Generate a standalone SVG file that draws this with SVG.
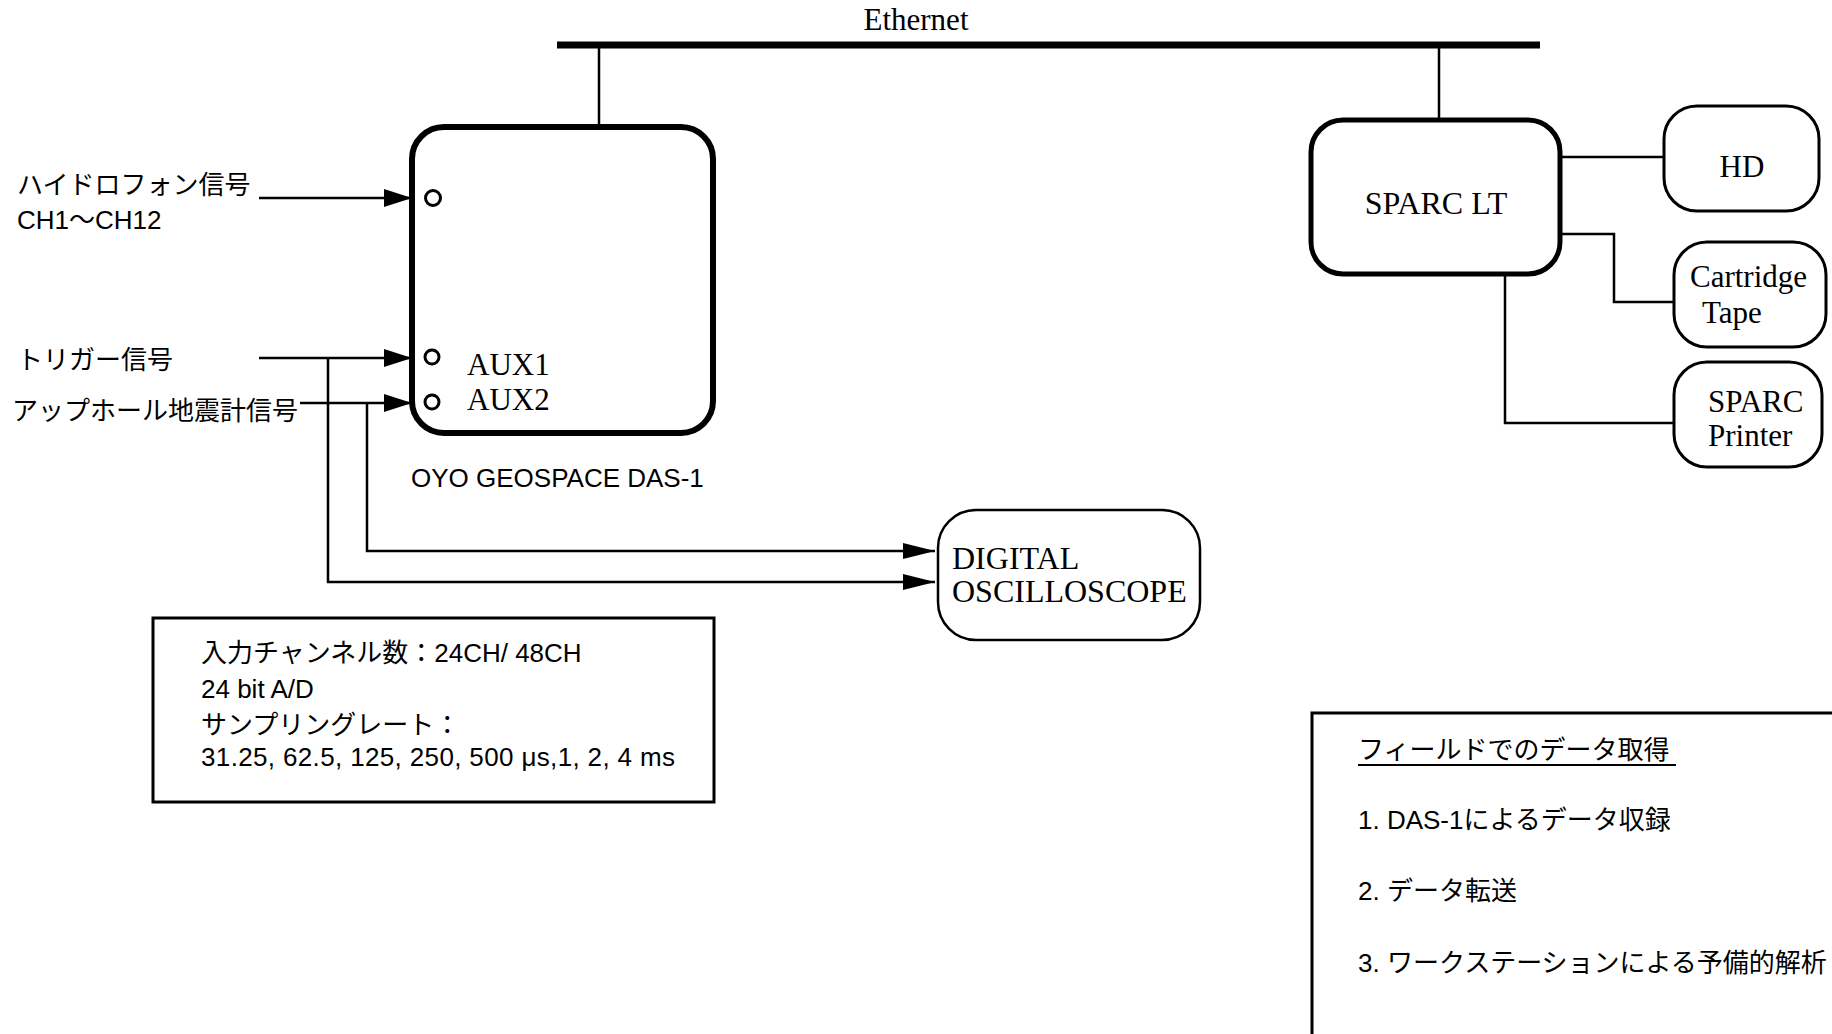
<svg xmlns="http://www.w3.org/2000/svg" width="1832" height="1034" viewBox="0 0 1832 1034">
<defs>
<style>
.serif{font-family:"Liberation Serif","Times New Roman",serif;font-size:31px;fill:#000}
.big{font-size:32px}
.jp{font-family:"Liberation Sans","Noto Sans CJK JP",sans-serif;font-size:26px;fill:#000}
.thick{fill:#fff;stroke:#000;stroke-width:6}
.mid{fill:#fff;stroke:#000;stroke-width:5}
.thin{fill:#fff;stroke:#000;stroke-width:3}
.ln{fill:none;stroke:#000;stroke-width:2.5}
.port{fill:#fff;stroke:#000;stroke-width:3}
</style>
<marker id="arr" markerUnits="userSpaceOnUse" markerWidth="30" markerHeight="20" refX="28" refY="9" orient="auto">
<path d="M0,0 L28,9 L0,18 z" fill="#000"/>
</marker>
<marker id="arr2" markerUnits="userSpaceOnUse" markerWidth="34" markerHeight="18" refX="32" refY="8" orient="auto">
<path d="M0,0 L32,8 L0,16 z" fill="#000"/>
</marker>
</defs>
<rect width="1832" height="1034" fill="#fff"/>

<g id="connectors">
<line x1="557" y1="45" x2="1540" y2="45" stroke="#000" stroke-width="7"/>
<line class="ln" x1="599" y1="45" x2="599" y2="127"/>
<line class="ln" x1="1439" y1="45" x2="1439" y2="120"/>
<line class="ln" x1="1560" y1="157" x2="1664" y2="157"/>
<polyline class="ln" points="1560,234 1614,234 1614,302 1674,302"/>
<polyline class="ln" points="1505,274 1505,423 1674,423"/>
<line class="ln" x1="259" y1="198" x2="412" y2="198" marker-end="url(#arr)"/>
<line class="ln" x1="259" y1="358" x2="412" y2="358" marker-end="url(#arr)"/>
<line class="ln" x1="300" y1="403" x2="412" y2="403" marker-end="url(#arr)"/>
<line class="ln" x1="412" y1="198" x2="425" y2="198"/>
<polyline class="ln" points="328,358 328,582 935,582" marker-end="url(#arr2)"/>
<polyline class="ln" points="367,403 367,551 935,551" marker-end="url(#arr2)"/>
</g>

<text class="serif" x="916" y="30" text-anchor="middle" font-size="30">Ethernet</text>

<g id="das1">
<rect class="thick" x="412" y="127" width="301" height="306" rx="32"/>
<circle class="port" cx="433" cy="198" r="7.5"/>
<circle class="port" cx="432" cy="357" r="7"/>
<circle class="port" cx="432" cy="402" r="7"/>
<text class="serif" x="467" y="375">AUX1</text>
<text class="serif" x="467" y="410">AUX2</text>
<text class="jp" x="411" y="487">OYO GEOSPACE DAS-1</text>
</g>

<g id="labels">
<text class="jp" x="17" y="194">ハイドロフォン信号</text>
<text class="jp" x="17" y="229">CH1～CH12</text>
<text class="jp" x="17" y="369">トリガー信号</text>
<text class="jp" x="12" y="420">アップホール地震計信号</text>
</g>

<g id="sparclt">
<rect class="mid" x="1311" y="120" width="249" height="154" rx="32"/>
<text class="serif big" x="1436" y="214" text-anchor="middle">SPARC LT</text>
</g>

<g id="hd">
<rect class="thin" x="1664" y="106" width="155" height="105" rx="33"/>
<text class="serif" x="1742" y="177" text-anchor="middle">HD</text>
</g>

<g id="cartridge">
<rect class="thin" x="1674" y="242" width="152" height="105" rx="33"/>
<text class="serif" x="1690" y="287">Cartridge</text>
<text class="serif" x="1702" y="323">Tape</text>
</g>

<g id="printer">
<rect class="thin" x="1674" y="362" width="148" height="105" rx="33"/>
<text class="serif" x="1708" y="412">SPARC</text>
<text class="serif" x="1708" y="446">Printer</text>
</g>

<g id="oscilloscope">
<rect class="ln" x="938" y="510" width="262" height="130" rx="38" fill="#fff"/>
<text class="serif big" x="952" y="569">DIGITAL</text>
<text class="serif big" x="952" y="602">OSCILLOSCOPE</text>
</g>

<g id="specs">
<rect class="thin" x="153" y="618" width="561" height="184"/>
<text class="jp" x="201" y="662">入力チャンネル数：24CH/ 48CH</text>
<text class="jp" x="201" y="698">24 bit A/D</text>
<text class="jp" x="201" y="734">サンプリングレート：</text>
<text class="jp" x="201" y="766" textLength="474" lengthAdjust="spacing">31.25, 62.5, 125, 250, 500 μs,1, 2, 4 ms</text>
</g>

<g id="steps">
<rect class="thin" x="1312" y="713" width="560" height="400"/>
<text class="jp" x="1358" y="759">フィールドでのデータ取得</text>
<line x1="1358" y1="765" x2="1676" y2="765" stroke="#000" stroke-width="2"/>
<text class="jp" x="1358" y="829">1. DAS-1によるデータ収録</text>
<text class="jp" x="1358" y="900">2. データ転送</text>
<text class="jp" x="1358" y="972">3. ワークステーションによる予備的解析</text>
</g>
</svg>
